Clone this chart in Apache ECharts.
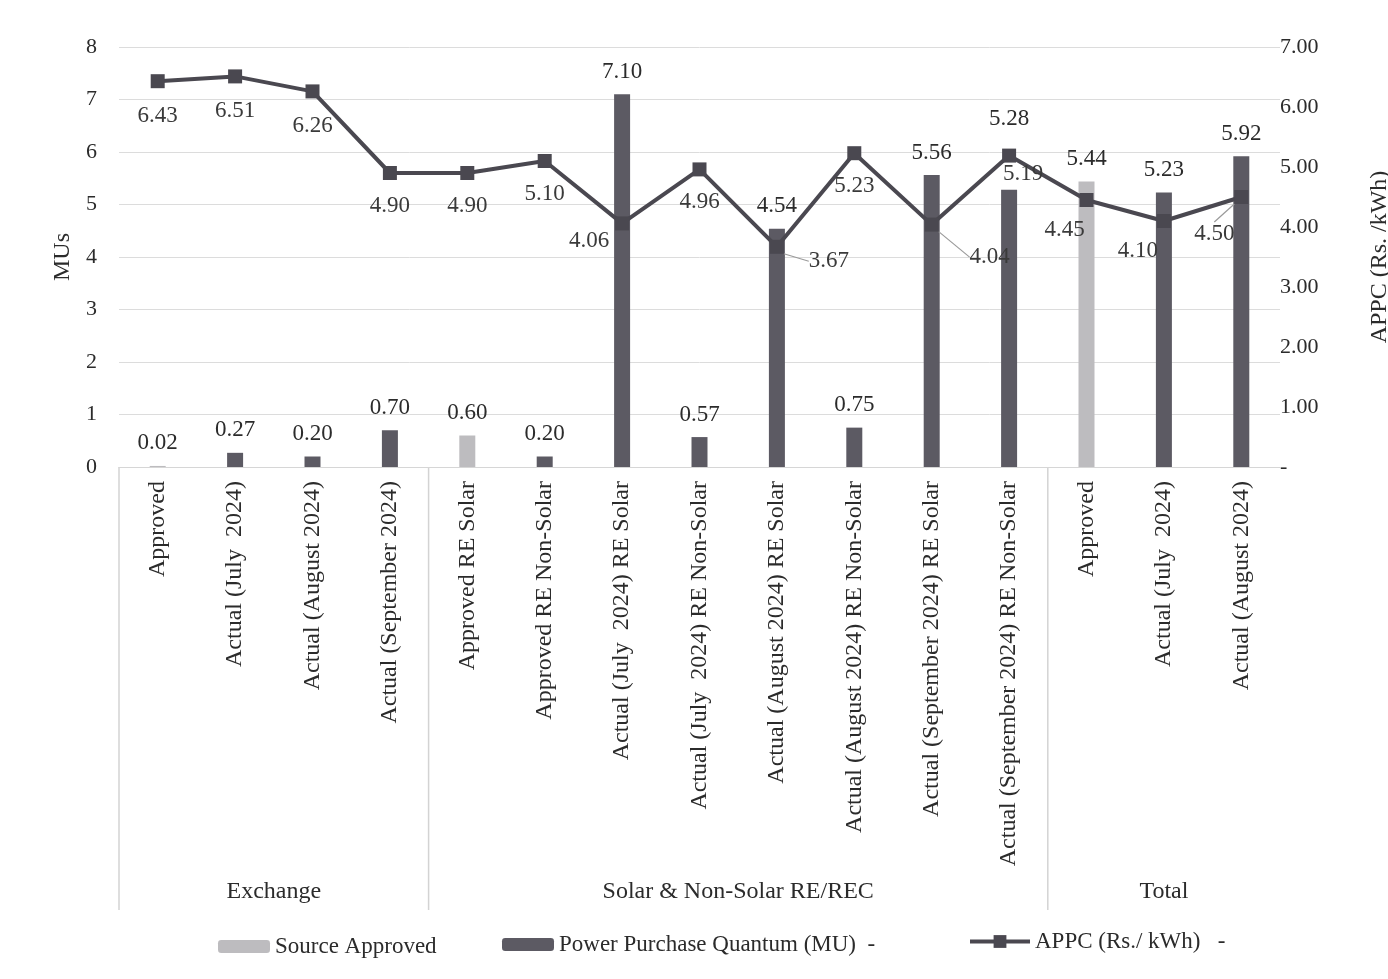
<!DOCTYPE html>
<html>
<head>
<meta charset="utf-8">
<script src="https://cdn.jsdelivr.net/npm/echarts@6/dist/echarts.min.js"></script>
<style>
  html, body { margin: 0; padding: 0; background: #fff; }
  #chart { width: 1388px; height: 979px; }
</style>
</head>
<body>
<div id="chart"></div>
<script>
// Categories along the x axis, in three groups
const categories = [
  'Approved',
  'Actual (July  2024)',
  'Actual (August 2024)',
  'Actual (September 2024)',
  'Approved RE Solar',
  'Approved RE Non-Solar',
  'Actual (July  2024) RE Solar',
  'Actual (July  2024) RE Non-Solar',
  'Actual (August 2024) RE Solar',
  'Actual (August 2024) RE Non-Solar',
  'Actual (September 2024) RE Solar',
  'Actual (September 2024) RE Non-Solar',
  'Approved',
  'Actual (July  2024)',
  'Actual (August 2024)'
];
const groupNames = ['Exchange', 'Solar & Non-Solar RE/REC', 'Total'];
const groupSizes = [4, 8, 3];

// Quantities (MU) and average power purchase cost (Rs./kWh)
const sourceApproved = [0.02, null, null, null, 0.60, null, null, null, null, null, null, null, 5.44, null, null];
const powerPurchase  = [null, 0.27, 0.20, 0.70, null, 0.20, 7.10, 0.57, 4.54, 0.75, 5.56, 5.28, null, 5.23, 5.92];
const appc           = [6.43, 6.51, 6.26, 4.90, 4.90, 5.10, 4.06, 4.96, 3.67, 5.23, 4.04, 5.19, 4.45, 4.10, 4.50];

// Axis ranges
const muMax = 8, appcMax = 7;

// Label nudges for the APPC labels [dx, dy, leader line]
const appcLabelShift = [
  [0, 2, false], [0, 2, false], [0, 2, false], [0, 0, false], [0, 0, false],
  [0, 0, false], [-33, -15, false], [0, 0, false], [52, -18, true], [0, 0, false],
  [58, 0, true], [14, -14, false], [-22, -3, false], [-26, -3, false], [-27, 4, true]
];
// Extra lift for individual bar labels
const barLabelLift = {11: 48};

const FONT = 'Liberation Serif';
const TXT = '#2b2b2b';
const DARK = '#5c5a63';
const LIGHT = '#bdbcbf';

const chart = echarts.init(document.getElementById('chart'), null, { renderer: 'canvas' });

const barLabel = {
  show: true, position: 'top', distance: 11,
  fontFamily: FONT, fontSize: 23, color: TXT,
  formatter: p => p.value == null ? '' : Number(p.value).toFixed(2)
};

function barData(arr) {
  return arr.map((v, i) => {
    if (v == null) return null;
    const lift = barLabelLift[i];
    return lift ? { value: v, label: { offset: [0, -lift] } } : v;
  });
}

const legendText = { fontFamily: FONT, fontSize: 23, color: TXT };

const option = {
  backgroundColor: '#fff',
  animation: false,
  textStyle: { fontFamily: FONT },
  grid: {
    left: 119, right: 108, top: 47, bottom: 512,
    containLabel: false, outerBoundsMode: 'none'
  },
  legend: [
    {
      left: 213, top: 930, itemWidth: 52, itemHeight: 13,
      data: ['Source Approved'],
      textStyle: legendText
    },
    {
      left: 497, top: 928, itemWidth: 52, itemHeight: 13,
      data: ['Power Purchase Quantum (MU)'],
      formatter: n => n + '  -',
      textStyle: legendText
    },
    {
      left: 963, top: 925, itemWidth: 60, itemHeight: 16,
      data: ['APPC (Rs./ kWh)'],
      formatter: n => n + '   -',
      lineStyle: { width: 4 },
      textStyle: legendText
    }
  ],
  xAxis: {
    type: 'category',
    data: categories,
    axisTick: { show: false },
    axisLine: { show: true, lineStyle: { color: '#d6d6d6', width: 1 } },
    axisLabel: {
      interval: 0, rotate: 90, margin: 14,
      fontFamily: FONT, fontSize: 24, color: TXT
    }
  },
  yAxis: [
    {
      type: 'value', min: 0, max: muMax, interval: 1,
      name: 'MUs', nameLocation: 'middle', nameGap: 44, nameRotate: 90,
      nameTextStyle: { fontFamily: FONT, fontSize: 24, color: TXT },
      axisLine: { show: false }, axisTick: { show: false },
      axisLabel: { margin: 22, fontFamily: FONT, fontSize: 22, color: TXT },
      splitLine: { lineStyle: { color: '#dcdcdc', width: 1 } }
    },
    {
      type: 'value', min: 0, max: appcMax, interval: 1,
      name: 'APPC (Rs. /kWh)', nameLocation: 'middle', nameGap: 88, nameRotate: 90,
      nameTextStyle: { fontFamily: FONT, fontSize: 24, color: TXT },
      axisLine: { show: false }, axisTick: { show: false },
      axisLabel: {
        margin: 0, fontFamily: FONT, fontSize: 22, color: TXT, align: 'left',
        formatter: v => v === 0 ? '-' : v.toFixed(2)
      },
      splitLine: { show: false }
    }
  ],
  series: [
    {
      name: 'Source Approved', type: 'bar', stack: 'mu', barWidth: 16,
      itemStyle: { color: LIGHT },
      label: barLabel,
      data: barData(sourceApproved)
    },
    {
      name: 'Power Purchase Quantum (MU)', type: 'bar', stack: 'mu', barWidth: 16,
      itemStyle: { color: DARK },
      label: barLabel,
      data: barData(powerPurchase)
    },
    {
      name: 'APPC (Rs./ kWh)', type: 'line', yAxisIndex: 1, z: 5,
      symbol: 'rect', symbolSize: 14,
      lineStyle: { color: '#4a4850', width: 4 },
      itemStyle: { color: '#4a4850' },
      label: {
        show: true, position: 'bottom', distance: 14,
        fontFamily: FONT, fontSize: 23, color: '#3a3a3a',
        formatter: p => Number(p.value).toFixed(2)
      },
      labelLine: { show: false, lineStyle: { color: '#9a9a9a', width: 1.2 } },
      labelLayout: p => {
        const s = appcLabelShift[p.dataIndex];
        return { dx: s[0], dy: s[1] };
      },
      data: appc.map((v, i) => appcLabelShift[i][2]
        ? { value: v, labelLine: { show: true, length2: 0 } }
        : v)
    }
  ]
};

chart.setOption(option);

// Group separators and group names beneath the category labels
function drawGroups() {
  const px = i => chart.convertToPixel({ xAxisIndex: 0 }, i);
  const step = px(1) - px(0);
  const base = chart.convertToPixel({ yAxisIndex: 0 }, 0);
  const elements = [];
  let start = 0;
  groupSizes.forEach((n, g) => {
    const left = px(start) - step / 2;
    const right = px(start + n - 1) + step / 2;
    elements.push({
      type: 'line',
      shape: { x1: left, y1: base, x2: left, y2: 910 },
      style: { stroke: '#d3d3d3', lineWidth: 1.5 }
    });
    elements.push({
      type: 'text',
      x: (left + right) / 2, y: 892,
      style: {
        text: groupNames[g], fontFamily: FONT, fontSize: 24, fill: TXT,
        align: 'center', verticalAlign: 'middle'
      }
    });
    start += n;
  });
  chart.setOption({ graphic: { elements } });
}
drawGroups();
</script>
</body>
</html>
